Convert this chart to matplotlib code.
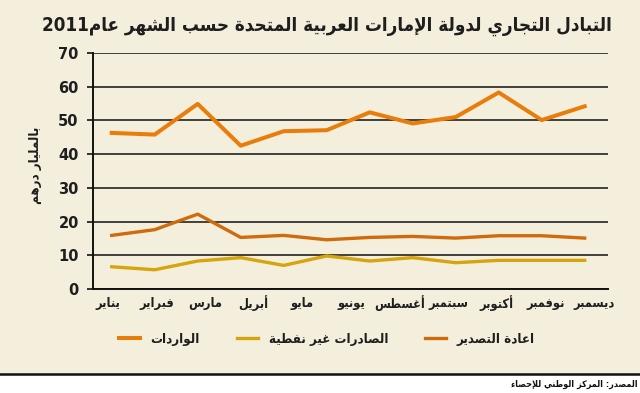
import re
import numpy as np
import matplotlib
matplotlib.use("Agg")
import matplotlib.pyplot as plt
from matplotlib.patches import Rectangle
from matplotlib.lines import Line2D

# ---------------- data ----------------
title = "التبادل التجاري لدولة الإمارات العربية المتحدة حسب الشهر عام2011"
ylabel = "بالمليار درهم"
source = "المصدر: المركز الوطني للإحصاء"
x_labels = ["يناير", "فبراير", "مارس", "أبريل", "مايو", "يونيو",
            "أغسطس", "سبتمبر", "أكتوبر", "نوفمبر", "ديسمبر"]
series_names = ["الواردات", "الصادرات غير نفطية", "اعادة التصدير"]
imports = [46.3, 45.8, 54.9, 42.5, 46.8, 47.1, 52.4, 49.1, 51.0, 58.3, 50.1, 54.2]
non_oil_exports = [6.6, 5.7, 8.3, 9.3, 7.0, 9.8, 8.3, 9.3, 7.8, 8.5, 8.5, 8.5]
re_exports = [15.9, 17.6, 22.2, 15.3, 15.9, 14.6, 15.3, 15.6, 15.1, 15.8, 15.8, 15.1]
y_ticks = [0, 10, 20, 30, 40, 50, 60, 70]

# ------------- minimal Arabic shaping (presentation forms + RTL) -------------
FORMS = {
    'ء': (0xFE80, 'U'), 'آ': (0xFE81, 'R'), 'أ': (0xFE83, 'R'), 'ؤ': (0xFE85, 'R'),
    'إ': (0xFE87, 'R'), 'ئ': (0xFE89, 'D'), 'ا': (0xFE8D, 'R'), 'ب': (0xFE8F, 'D'),
    'ة': (0xFE93, 'R'), 'ت': (0xFE95, 'D'), 'ث': (0xFE99, 'D'), 'ج': (0xFE9D, 'D'),
    'ح': (0xFEA1, 'D'), 'خ': (0xFEA5, 'D'), 'د': (0xFEA9, 'R'), 'ذ': (0xFEAB, 'R'),
    'ر': (0xFEAD, 'R'), 'ز': (0xFEAF, 'R'), 'س': (0xFEB1, 'D'), 'ش': (0xFEB5, 'D'),
    'ص': (0xFEB9, 'D'), 'ض': (0xFEBD, 'D'), 'ط': (0xFEC1, 'D'), 'ظ': (0xFEC5, 'D'),
    'ع': (0xFEC9, 'D'), 'غ': (0xFECD, 'D'), 'ف': (0xFED1, 'D'), 'ق': (0xFED5, 'D'),
    'ك': (0xFED9, 'D'), 'ل': (0xFEDD, 'D'), 'م': (0xFEE1, 'D'), 'ن': (0xFEE5, 'D'),
    'ه': (0xFEE9, 'D'), 'و': (0xFEED, 'R'), 'ى': (0xFEEF, 'R'), 'ي': (0xFEF1, 'D'),
}
LAM_ALEF = {'آ': 0xFEF5, 'أ': 0xFEF7, 'إ': 0xFEF9, 'ا': 0xFEFB}


def ar(s):
    units = []
    i = 0
    while i < len(s):
        c = s[i]
        if c == 'ل' and i + 1 < len(s) and s[i + 1] in LAM_ALEF:
            units.append(('LA', LAM_ALEF[s[i + 1]]))
            i += 2
        else:
            units.append(('C', c))
            i += 1

    def can_join_next(u):
        if u is None or u[0] == 'LA':
            return False
        f = FORMS.get(u[1])
        return f is not None and f[1] == 'D'

    def is_joiner(u):
        if u is None:
            return False
        if u[0] == 'LA':
            return True
        f = FORMS.get(u[1])
        return f is not None and f[1] in 'DR'

    out = []
    for k, (t, v) in enumerate(units):
        prev = units[k - 1] if k > 0 else None
        nxt = units[k + 1] if k + 1 < len(units) else None
        if t == 'LA':
            out.append(chr(v + (1 if can_join_next(prev) else 0)))
            continue
        f = FORMS.get(v)
        if f is None:
            out.append(v)
            continue
        base, typ = f
        p = can_join_next(prev) and typ in 'DR'
        n = typ == 'D' and is_joiner(nxt)
        if typ == 'U':
            out.append(chr(base))
        elif typ == 'R':
            out.append(chr(base + 1 if p else base))
        else:
            if p and n:
                out.append(chr(base + 3))
            elif p:
                out.append(chr(base + 1))
            elif n:
                out.append(chr(base + 2))
            else:
                out.append(chr(base))
    vis = ''.join(out)[::-1]
    vis = re.sub(r'[0-9]+', lambda m: m.group(0)[::-1], vis)
    return vis


# ---------------- figure ----------------
plt.rcParams['font.family'] = ['DejaVu Sans']
BG = '#f4efdc'
C_IMP = '#e97d0c'
C_NON = '#d6a40c'
C_RE = '#cf6a0d'
TXT = '#1e1e1e'

W, H = 640, 393
fig = plt.figure(figsize=(W / 100, H / 100), dpi=100, facecolor=BG)

# white footer strip and separator
fig.add_artist(Rectangle((0, 0), 1, 1 - 374 / H, transform=fig.transFigure,
                         facecolor='white', edgecolor='none', zorder=0))
fig.add_artist(Line2D([0, 1], [1 - 374 / H, 1 - 374 / H], transform=fig.transFigure,
                      color='#111111', lw=1.8, zorder=1))

left, right, top, bottom = 92.7, 608, 53, 289
ax = fig.add_axes([left / W, 1 - bottom / H, (right - left) / W, (bottom - top) / H])
ax.set_facecolor('none')

x = np.arange(len(imports))
ax.plot(x, imports, color=C_IMP, lw=2.9, label=ar(series_names[0]), zorder=3)
ax.plot(x, non_oil_exports, color=C_NON, lw=2.4, label=ar(series_names[1]), zorder=3)
ax.plot(x, re_exports, color=C_RE, lw=2.4, label=ar(series_names[2]), zorder=3)

px_per_unit = 43.0
x0 = -(111.7 - left) / px_per_unit
ax.set_xlim(x0, x0 + (right - left) / px_per_unit)
ax.set_ylim(0, 70)
ax.set_yticks(y_ticks)
ax.set_yticklabels([str(v) for v in y_ticks], fontsize=10.5, fontweight='bold', color=TXT)
ax.yaxis.grid(True, color='#111111', lw=1.1, zorder=1)
ax.set_axisbelow(True)
ax.set_xticks([])
for s in ['top', 'right']:
    ax.spines[s].set_visible(False)
ax.spines['left'].set_color('#111111')
ax.spines['left'].set_linewidth(1.4)
ax.spines['bottom'].set_color('#111111')
ax.spines['bottom'].set_linewidth(1.4)
ax.tick_params(axis='y', length=4, width=1.2, color='#111111', pad=6)

# month labels along the bottom
n = len(x_labels)
c_first, c_last = 108, 594
for i, lab in enumerate(x_labels):
    cx = c_first + (c_last - c_first) * i / (n - 1)
    fig.text(cx / W, 1 - 303 / H, ar(lab), ha='center', va='center',
             fontsize=9.2, fontweight='bold', color=TXT, fontstretch='condensed')

# title
fig.text(612 / W, 1 - 26 / H, ar(title), ha='right', va='center',
         fontsize=13.5, fontweight='bold', color=TXT, fontstretch='condensed')

# y label
fig.text(36 / W, 1 - 165 / H, ar(ylabel), ha='center', va='center', rotation=90,
         fontsize=9.5, fontweight='bold', color=TXT, fontstretch='condensed')

# legend
leg = fig.legend(loc='center', bbox_to_anchor=(327 / W, 1 - 339 / H), ncol=3,
                 frameon=False, handlelength=1.6, handletextpad=0.8,
                 columnspacing=2.8,
                 prop={'size': 9.5, 'weight': 'bold', 'stretch': 'condensed'})
for t in leg.get_texts():
    t.set_color(TXT)

# source footnote
fig.text(638 / W, 1 - 384 / H, ar(source), ha='right', va='center',
         fontsize=6.5, fontweight='bold', color='#111111', fontstretch='condensed')

fig.savefig('out.png', dpi=100, facecolor=BG)
